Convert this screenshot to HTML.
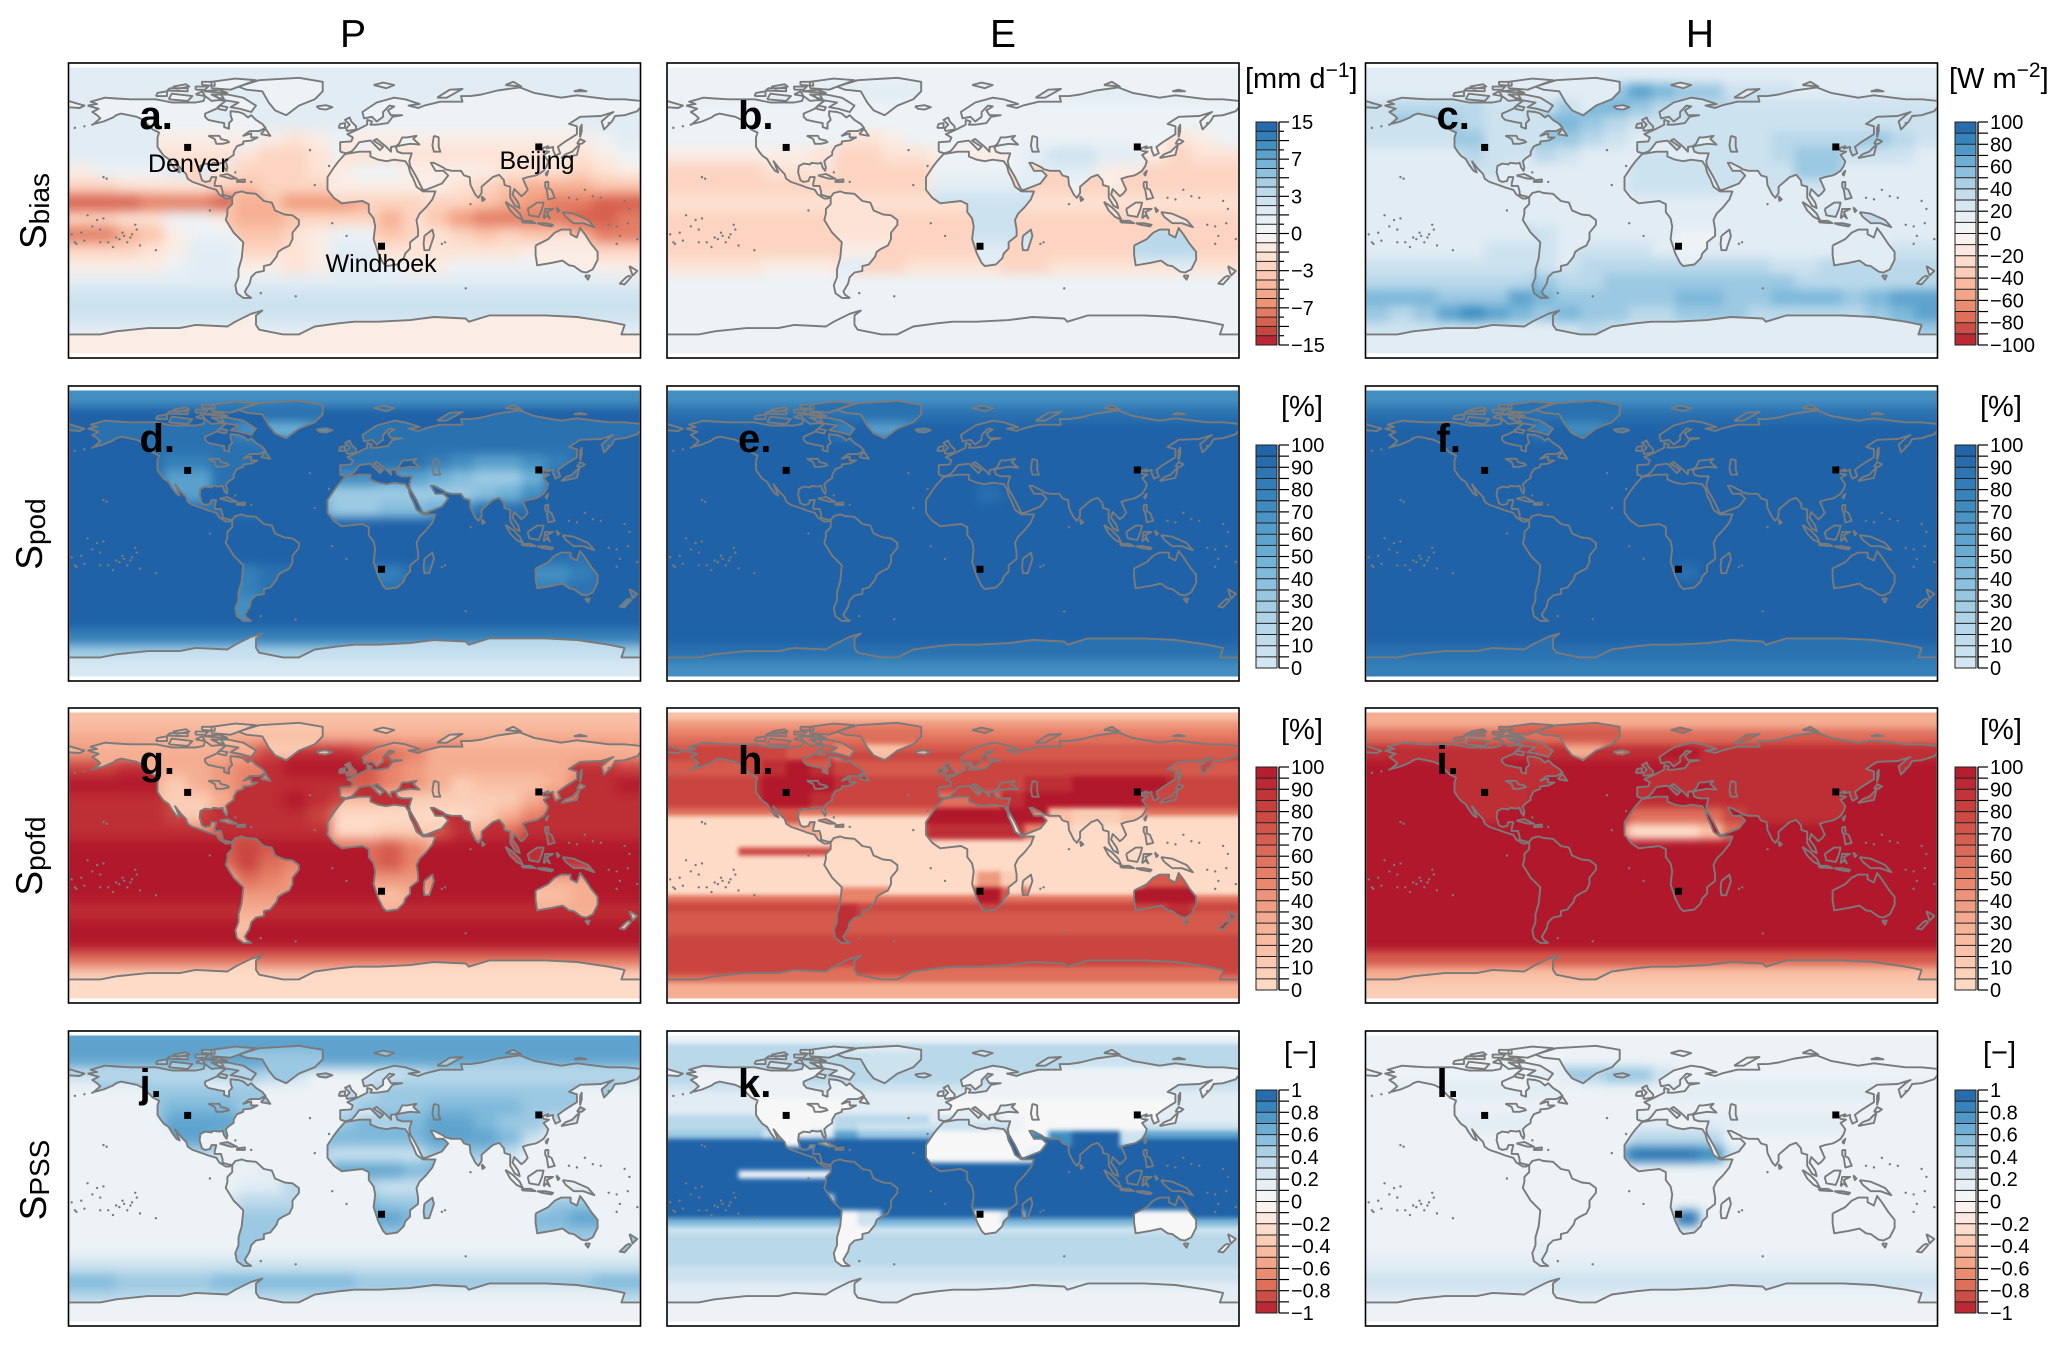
<!DOCTYPE html>
<html lang="en">
<head>
<meta charset="utf-8">
<title>Global skill score maps for P, E and H</title>
<style>
html,body{margin:0;padding:0;background:#fff}
svg{display:block;font-family:"Liberation Sans",sans-serif}
</style>
</head>
<body>
<svg id="fig" xmlns="http://www.w3.org/2000/svg" width="2067" height="1345" viewBox="0 0 2067 1345">
<defs id="defs"></defs>
<rect width="2067" height="1345" fill="#fff"/>
<g font-size="39" text-anchor="middle" fill="#000">
<text x="353" y="47">P</text>
<text x="1003" y="47">E</text>
<text x="1700" y="47">H</text>
</g>
<g text-anchor="middle" fill="#000" font-size="37">
<text transform="translate(46,211) rotate(-90)">S<tspan font-size="28" dy="3">bias</tspan></text>
<text transform="translate(42,534) rotate(-90)">S<tspan font-size="28" dy="3">pod</tspan></text>
<text transform="translate(42,856) rotate(-90)">S<tspan font-size="28" dy="3">pofd</tspan></text>
<text transform="translate(46,1180) rotate(-90)">S<tspan font-size="28" dy="3">PSS</tspan></text>
</g>
<g fill="#000" font-size="29">
<text x="1245" y="88">[mm d<tspan font-size="21" dy="-11">−1</tspan><tspan dy="11">]</tspan></text>
<text x="1949" y="88">[W m<tspan font-size="21" dy="-11">−2</tspan><tspan dy="11">]</tspan></text>
<text x="1281" y="416">[%]</text>
<text x="1980" y="416">[%]</text>
<text x="1281" y="739">[%]</text>
<text x="1980" y="739">[%]</text>
<text x="1284" y="1062">[−]</text>
<text x="1983" y="1062">[−]</text>
</g>
<g id="plots"></g>
</svg>
<script>
// ---------- Basemap geometry (lon, lat) ----------
const coastRings = [
[-168,66,-162,67,-166,68.5,-157,71,-150,70.5,-141,70,-130,70,-125,70,-115,68,-108,68,-100,68,-95,69,-94,72,-90,69,-85,69.5,-81,69,-85,66,-87,64,-94,61,-94,59,-92,57,-85,55.5,-82,55,-82,52.5,-79,51.5,-79,55,-77,57,-78,60,-78,62.5,-73,62,-70,61,-67,58.5,-65,60,-62,57,-58,54.5,-56,52,-60,50,-66,50,-70,47,-65,48.5,-65,46,-61,46,-65,44,-70,43.5,-70,42,-74,40.5,-76,37,-76,35,-79,33,-81,31,-80,27,-80.5,25,-82,27,-83,30,-85,29.5,-89,30,-90,29,-94,29.5,-97,28,-97.5,24,-96,19,-94,18,-91,18.5,-90,21,-87,21,-88,17,-88,15.5,-84,15.5,-83,12,-83,10,-80,9,-77,8.5,-79,7.5,-81,7.5,-85,10,-87,13,-92,14.5,-96,16,-102,18,-105,20,-106,23,-109,26,-113,31,-112,29,-110,24,-112,25,-115,29,-117,32.5,-120,34.5,-122,37,-124,40,-124,46,-123,49,-127,51,-130,54,-133,57,-137,59,-142,60,-147,61,-150,60,-152,58.5,-158,56,-164,54.5,-160,58,-162,60,-165,62,-161,64,-168,66],
[-77,8.5,-75,11,-71,12,-68,11,-62,10.5,-57,6,-52,5,-50,0,-44,-2.5,-39,-3,-35,-6,-35,-9,-39,-14,-39,-18,-41,-22,-45,-24,-48,-26,-49,-29,-53,-34,-57,-35,-57,-38,-62,-39,-65,-42,-66,-46,-69,-51,-68,-53,-65,-55,-70,-55,-74,-52,-75,-47,-73,-42,-73,-37,-71,-30,-70,-20,-76,-14,-81,-6,-80,-2,-80,1,-77,4,-77,8.5],
[-6,35.5,3,37,10,37,10,34,15,32,20,31,25,32,32,31,34,28,35,24,37,20,39,15,43,12,51,12,49,7,45,2,41,-2,39,-6,40,-12,40,-16,35,-20,35,-24,32,-27,31,-30,27,-34,20,-35,18,-33,15,-27,12,-18,13,-10,12,-5,9,-1,9,4,5,6,-4,5,-8,4.5,-13,8,-17,13,-17,21,-13,27,-10,31,-6,35.5],
[-9,37,-9,43,-2,43.5,-1,46,-4.5,48,2,51,8,54,8,57,11,56,10,54,14,54,21,55,24,59,30,60,23,60,21,63,25,65.5,22,66,18,62,18,59,14,56,11,59,6,58,5,62,14,68,25,71,32,70,41,67,34,66,40,64.5,44,66,54,68.5,68,68.5,67,72,73,72,80,73,90,75.5,104,77.5,113,74,130,71,140,72.5,160,70,170,70,180,69,180,65,178,62.5,170,60,164,59.5,162,56,157,51,155.5,56,160,60,163,62,155,59.5,142,59,135,54.5,140,53,140,48,132,43,128,40,129.5,36,126.5,34.5,125,38,125,40,121,39,122,40.5,118,39,119,37.5,122.5,37,119,35,122,31,121,28,119,25,116,23,114,22,109,21,106,20,109,13,107,10.5,105,9,103,11,100.5,13.5,99.5,10,103,5,104,1.5,101,3,98,8,98,15,94.5,16,94,19,91,22.5,87,21,80,15,80,11,78,8,76,10,73,16,72.5,21,69,22,67,25,61,25,57,26,56,27,50,30,48,30,51,25,56,25,59,22,55,17,45,13,43,13,39,21,35,28,34.5,31,36,36,30,36,27,37,26,40,29,41,35,42,41,41.5,37,45,39,47,33,46,30,46,28,42,26,40.5,23,40,23,37,20,40,14,45,12,44,18,40,16,38,10,44,3,43,0,39,-2,37,-5.5,36,-9,37],
[-180,69,-175,67.5,-170,66,-173,64.5,-180,65,-180,69],
[-73,78,-60,82,-35,83.5,-20,81,-20,75,-25,70,-35,66,-43,60,-50,63,-54,68,-58,75,-68,76,-73,78],
[-24,65.5,-18,66.3,-14,65,-18,63.5,-22,64,-24,65.5],
[-5,50,1,51,1,53,-2,56,-3,58.5,-6,57,-3,54,-5,52,-5,50],
[-10,52,-6,52,-6,55,-9,54.5,-10,52],
[-80,73,-70,71,-62,66,-65,62,-72,64,-78,65,-73,68,-85,70,-88,73,-80,73],
[-117,70,-105,69,-102,72,-115,73.5,-117,70],
[-125,72,-118,72,-118,75,-124,74,-125,72],
[-90,77,-78,76,-62,82,-75,83,-90,81,-90,77],
[-95,75,-80,74,-85,76,-95,75],
[-118,75.5,-105,75,-105,77,-116,77,-118,75.5],
[-100,73,-94,72,-96,75,-100,73],
[-100,76,-94,76,-92,78,-100,78,-100,76],
[-112,76.5,-104,78,-106,79.5,-114,78,-112,76.5],
[-96,79,-88,78.5,-88,81,-96,81,-96,79],
[-86,64,-81,63,-80,65,-85,66,-86,64],
[-82,70,-86,71,-90,73,-84,73,-82,70],
[-59,48,-53,47,-56,51.5,-59,48],
[12,79,20,77,25,79,18,80.5,12,79],
[52,71,58,71,68,76.5,60,76,52,71],
[95,79,105,78,100,81,95,79],
[138,75,146,75,142,76,138,75],
[-85,22,-80,23,-74,20,-78,20,-85,22],
[-74,19,-69,19.5,-69,18,-74,18,-74,19],
[44,-16,49,-12,50,-16,47,-25,44,-25,43.5,-21,44,-16],
[80,9,82,7,80.5,6,80,9],
[130,33,135,34,140,35,141,39,141.5,41,140,40,137,37,133,35.5,130,33],
[140,42,142,45,145,43.5,143,42,140,42],
[142,46,143,50,143,54,142,52,142,46],
[120,23,122,25,121,22,120,23],
[120,18,122,18,122,14,124,13,126,8,122,7,121,13,120,15,120,18],
[95,5.5,100,2,104,-2,106,-6,102,-4,98,0,95,5.5],
[105,-6.5,111,-6.5,114,-8,106,-7.5,105,-6.5],
[115,-8,120,-8,125,-9,124,-10,118,-9,115,-8],
[127,2,128,-1,129,0,127,2],
[109,1,115,5,119,5,118,1,116,-4,110,-3,109,1],
[119,-5,120,1,125,1,121,-1,123,-5,121,-3,119,-5],
[131,-1,138,-2,147,-6,151,-10.5,144,-8,138,-8,133,-4,131,-1],
[114,-22,122,-18,126,-14,130,-12,136,-12,136,-15,140,-17,142,-11,145,-15,149,-21,153,-26,153,-31,150,-37,146,-39,143,-38.5,138,-35,135,-34.5,131,-31.5,124,-33,115,-34.5,114,-28,114,-22],
[145,-41,148,-41,147,-43.5,145,-41],
[173,-35,178,-38,175,-41,173,-35],
[173,-41,174,-42,170,-46.5,167,-46,171,-42,173,-41]
];
const antarcticCoast = [-180,-78,-160,-78,-150,-76,-130,-74,-110,-74,-100,-72,-80,-73,-75,-70,-65,-65,-58,-63,-62,-66,-62,-72,-60,-75,-45,-78,-35,-78,-25,-73,-10,-71,0,-70,15,-70,35,-69,50,-67,70,-68,72,-70,85,-66,100,-66,120,-66,140,-67,160,-70,170,-72,168,-78,180,-78];
const lakeRings = [[50,47,53,46,53,40,54,37,50,37,49,41,50,47],[-92,47,-85,47,-84,45,-80,44,-79,43,-83,42,-87,42,-88,45,-92,47]];
const islandLons = [-156,-158,-150,-145,-140,-138,-172,178,167,165,160,70,-59,-37,55,-91,-16,-28,-135,-125,-160,-165,173,-176,57,73,-25,-5,-14,-148,-143,-152,-146,-141,-137,-155,-170,-175,-160,-162,-158,-168,-178,155,150,145,140,135,170,172,-75,-78,-65,-170,-176,-165,160,165];
const islandLats = [20,21,-17,-16,-15,-9,-14,-18,-16,-21,-9,-49,-52,-54,-21,0,28,38,-22,-25,-20,-10,1,-20,-20,4,16,-16,-8,-18,-20,-23,-14,-17,-12,-20,-19,-21,-12,-6,-5,-3,-15,8,9,13,7,8,6,-8,24,22,18,53,52,54,55,-10];

// ---------- Cities ----------
const cityNames = ["Denver","Beijing","Windhoek"];
const cityLons = [-105,116,17];
const cityLats = [39.7,40,-22.5];

// ---------- Colourbar tick labels ----------
const ticksBiasP = ["15","7","3","0","−3","−7","−15"];
const ticksBiasH = ["100","80","60","40","20","0","−20","−40","−60","−80","−100"];
const ticksPercent = ["100","90","80","70","60","50","40","30","20","10","0"];
const ticksPss = ["1","0.8","0.6","0.4","0.2","0","−0.2","−0.4","−0.6","−0.8","−1"];

// ---------- Field values: each row runs west to east; rows run north to south.
// Values are tenths of the colourbar range (P, E bias: colourbar class position).
const oceanA = [[2],[2],[2],[2],
[2,2,2,2,2,2,2,1,-1,-2,-1,1,1,1,1,1,1,1,1,1,1,-1,1,2],
[2,2,2,2,2,2,2,-2,-3,-3,-2,1,-1,-1,-1,-1,-1,-1,-1,-1,-1,-2,-1,1],
[-1,1,1,1,2,2,-2,-3,-3,-3,-2,-1,1,-1,-1,-1,-1,-1,-2,-2,-2,-3,-2,-1],
[-3,-3,-2,-2,-2,-2,-3,-4,-3,-3,-3,-2,-2,-2,-2,-1,-2,-3,-4,-5,-5,-5,-4,-4],
[-8,-8,-8,-7,-7,-7,-8,-7,-4,-6,-6,-6,-5,-3,-3,-3,-3,-4,-5,-6,-7,-7,-8,-8],
[-3,-3,-2,-2,1,1,-1,-3,-3,-3,-3,-3,-3,-3,-2,-4,-6,-7,-7,-7,-7,-8,-8,-7],
[-7,-7,-5,-4,-1,1,1,-1,-2,-2,-1,1,1,-2,-2,-2,-3,-4,-3,-4,-4,-5,-7,-7],
[-3,-3,-3,-2,-1,2,2,1,-2,-2,-1,2,2,-1,-2,-2,-2,-2,-2,-1,-1,-2,-3,-3],
[-1,-1,-1,-1,1,2,2,1,-1,-2,-1,2,2,1,-1,-1,1,1,1,1,1,1,-1,-1],
[2],[3],[3],[2],[-1]];
const landA = [[1],[1],[1],[1],[-1],[-2],
[-2,-2,-2,-2,-2,-3,-3,-3,-3,-3,-2,-1,1,1,-1,-1,-1,-1,-2,-2,-2,-2,-2,-2],
[-3,-3,-3,-3,-3,-3,-4,-4,-4,-3,-1,-1,-1,-1,-1,-1,-2,-3,-4,-4,-5,-5,-5,-5],
[-5,-5,-5,-5,-5,-5,-4,-5,-5,-4,-4,-3,-3,-3,-3,-2,-3,-4,-6,-6,-6,-7,-7,-7],
[-5,-5,-5,-5,-5,-5,-4,-5,-5,-4,-4,-3,-3,-5,-3,-3,-4,-5,-6,-7,-7,-7,-8,-8],
[-3,-3,-3,-3,-3,-3,-3,-4,-4,-3,-3,-3,-3,-4,-3,-3,-3,-3,-3,-3,-2,-2,-2,-2],
[-2,-2,-2,-2,-2,-2,-2,-3,-3,-2,-2,-2,-2,-2,-2,-2,-2,-2,-2,-1,-1,-1,-1,-1],
[-1],[1],[2],[-1],[-1],[-1]];
const oceanB = [[1],[1],[1],[1],
[1,1,1,1,1,1,1,-2,-2,-1,1,1,1,1,1,1,1,1,1,1,-1,-2,-1,1],
[-1,-1,-1,-1,-1,1,1,-3,-3,-2,-2,-1,-1,-1,-1,-1,-1,-1,-1,-1,-1,-3,-2,-2],
[-3,-3,-3,-3,-2,-2,-2,-3,-3,-3,-3,-2,-2,-2,-2,-3,-3,-3,-3,-3,-3,-3,-3,-3],
[-3],[-2],[-3],[-3],[-3],
[-2,-2,-2,-2,-1,-1,-1,-2,-3,-3,-2,-2,-2,-2,-3,-3,-2,-2,-2,-2,-2,-2,-2,-2],
[1],[1],[1],[1],[1]];
const landB = [[1],[2],[1],[1],[1],
[-1,-1,-1,-1,-1,-1,-2,-2,-2,-2,-2,1,1,1,1,2,3,3,2,2,1,-1,-1,-1],
[-2,-2,-2,-2,-2,-2,-2,-2,-2,-2,-2,1,1,1,1,2,2,2,-1,-1,-2,-2,-2,-2],
[-3,-3,-3,-3,-3,-3,-2,-2,-2,-2,-2,2,2,2,2,2,1,1,-1,-2,-2,-2,-2,-2],
[-2,-2,-2,-2,-2,-2,-2,-2,-2,-2,-2,3,3,3,3,3,-1,-2,-2,-2,-2,-2,-2,-2],
[-2,-2,-2,-2,-2,-2,-2,-2,-2,-2,-2,3,3,3,3,3,-2,-2,-2,-2,-2,-2,-2,-2],
[-2,-2,-2,-2,-2,-2,-2,-2,-2,-2,-2,3,3,3,3,3,3,3,3,3,4,4,4,4],
[-1,-1,-1,-1,-1,-1,-1,-1,-1,-1,-1,2,2,2,2,2,3,3,3,4,4,4,4,4],
[2],[1],[1],[1],[1],[1]];
const oceanC = [[2],
[2,2,2,2,2,2,2,2,2,2,5,7,6,5,5,3,3,3,2,2,2,2,2,2],
[3,3,3,3,3,3,3,3,5,6,6,5,4,4,4,4,4,3,3,3,3,3,3,3],
[3,3,3,3,3,3,3,6,6,5,4,3,3,3,3,3,3,3,3,3,3,3,3,3],
[3,3,3,3,3,3,3,5,5,4,3,2,2,2,2,2,2,2,2,3,5,5,4,3],
[2,2,2,2,2,2,2,4,3,2,2,2,2,2,2,2,2,2,2,2,3,3,3,2],
[2],[2],[2],[2],[2],
[2,2,2,2,2,3,3,3,3,3,3,3,2,2,2,2,2,2,2,2,2,2,3,3],
[3,3,3,3,3,3,3,3,3,4,4,4,4,4,4,4,4,3,3,4,4,4,4,4],
[4,4,4,4,4,4,4,5,4,4,5,5,5,5,5,5,5,5,4,4,4,4,4,4],
[6,6,6,5,5,5,7,6,5,5,5,5,5,6,6,5,5,6,6,6,5,6,7,7],
[5,4,5,7,8,7,6,5,6,5,5,4,4,5,5,5,4,4,4,4,4,5,6,7],
[3,3,3,3,3,3,3,3,3,4,3,3,3,3,3,3,3,3,3,3,3,3,5,5],
[2]];
const landC = [[2],[2],
[4,4,4,4,4,3,3,3,3,2,2,3,3,3,3,3,3,3,3,3,3,3,3,3],
[5,5,5,5,4,3,3,3,3,3,3,3,3,3,3,3,3,3,3,3,3,3,3,3],
[4,4,4,5,5,3,3,3,3,3,3,3,3,3,3,3,3,4,4,4,4,4,4,4],
[3,3,3,3,4,3,3,3,3,3,3,3,3,3,3,3,3,4,5,5,4,3,3,3],
[2,2,2,2,3,3,2,2,2,2,2,3,3,3,3,3,3,3,5,5,3,3,3,3],
[2,2,2,2,2,2,2,2,2,2,2,3,3,3,3,3,3,3,3,3,3,3,3,3],
[2,2,2,2,2,2,2,2,2,2,2,2,2,2,2,2,2,2,2,2,3,3,3,3],
[2,2,2,2,2,2,2,2,2,2,2,2,2,2,2,2,2,2,2,3,3,4,4,4],
[2,2,2,2,2,2,4,3,2,2,2,2,2,1,1,2,2,2,2,2,2,2,2,2],
[2,2,2,2,2,2,5,3,2,2,2,2,1,1,1,1,2,2,2,2,2,2,2,2],
[2,2,2,2,2,2,5,3,2,2,2,2,2,2,2,2,2,2,2,2,2,2,2,2],
[3,3,3,3,3,3,7,5,3,3,3,3,3,3,3,3,3,3,3,3,3,3,3,3],
[7],
[2,2,2,2,2,2,3,5,7,4,2,2,2,2,2,2,2,2,2,2,2,2,2,2],
[2],[2]];
const oceanD = [[7],[10],[10],[10],[10],[10],[10],[10],[10],[10],[10],[10],[10],[10],[10],[8],[3],[0]];
const landD = [[8],[9],
[9,9,9,9,9,9,9,7,5,5,6,9,9,9,9,9,9,9,9,9,9,9,9,9],
[9],
[9,9,9,9,8,8,9,9,9,9,9,9,9,9,9,8,7,6,6,7,8,9,9,9],
[9,9,9,9,6,6,9,9,9,9,9,7,7,6,6,5,4,3,3,5,9,9,9,9],
[9,9,9,9,6,6,9,9,9,9,4,3,3,3,3,3,3,4,5,7,9,9,9,9],
[9,9,9,9,9,9,9,9,9,9,5,3,3,4,4,5,7,9,9,9,9,9,9,9],
[10],[10],
[10,10,10,10,10,10,10,10,10,10,10,10,10,10,10,10,10,10,10,9,9,9,9,9],
[9,9,9,9,9,9,7,8,9,9,9,9,8,8,9,9,9,9,9,7,7,8,9,9],
[9,9,9,9,9,9,6,8,9,9,9,9,9,9,9,9,9,9,9,8,8,9,9,9],
[7],[7],[2],[1],[0]];
const oceanE = [[7],[9],[10],[10],[10],[10],[10],[10],[10],[10],[10],[10],[10],[10],[10],[10],[9],[7]];
const landE = [[9],[9],
[10,10,10,10,10,10,10,8,6,6,7,10,10,10,10,10,10,10,10,10,10,10,10,10],
[10],[10],[10],
[10,10,10,10,10,10,10,10,10,10,10,10,10,9,10,10,10,10,10,10,10,10,10,10],
[10],[10],[10],[10],[10],[10],[10],[10],[9],[9],[7]];
const oceanF = [[7],[9],[10],[10],[10],[10],[10],[10],[10],[10],[10],[10],[10],[10],[10],[10],[9],[8]];
const landF = [[9],[9],
[10,10,10,10,10,10,10,8,7,7,8,10,10,10,10,10,10,10,10,10,10,10,10,10],
[10],[10],[10],[10],[10],[10],[10],[10],
[10,10,10,10,10,10,10,10,10,10,10,10,10,9,10,10,10,10,10,10,10,10,10,10],
[10],[10],[10],[9],[9],[8]];
const oceanG = [[2],[3],
[4,4,4,3,3,3,3,6,8,9,9,9,8,7,6,6,6,6,5,5,5,5,5,4],
[8,8,9,9,8,4,4,9,9,10,10,10,10,9,9,9,9,9,9,9,9,9,9,8],
[10,10,10,10,10,9,9,9,9,9,9,9,9,9,9,9,9,9,9,9,9,9,9,10],
[9,9,9,9,8,8,9,9,9,10,9,8,9,9,9,9,9,9,9,9,9,9,9,9],
[9,9,9,9,8,8,9,9,9,9,8,5,9,9,9,9,9,9,9,9,9,9,9,9],
[9,9,9,9,9,9,9,9,9,9,9,8,8,8,8,7,9,9,9,9,9,9,9,9],
[10],[10],[10],[10],[9],[10],[10],[6],[1],[0]];
const landG = [[1],[2],
[3,3,3,3,3,3,3,3,1,1,1,6,6,6,5,3,3,3,3,3,3,3,3,3],
[3,3,3,3,3,3,4,5,5,5,5,7,7,5,4,3,3,3,3,3,3,4,4,4],
[3,3,3,3,1,3,4,5,6,6,6,7,7,5,4,3,1,2,2,2,3,5,6,6],
[2,2,2,2,1,1,3,6,6,6,6,2,2,2,1,1,1,1,1,3,5,7,7,7],
[2,2,2,2,1,1,4,7,7,7,7,0,0,0,0,0,0,1,3,5,6,7,7,7],
[5,5,5,5,5,5,7,7,7,7,7,0,0,1,1,1,2,3,6,8,9,9,9,9],
[7,7,7,7,7,7,7,8,7,6,6,6,6,7,5,3,7,7,8,9,9,9,9,9],
[6,6,6,6,6,6,6,8,6,5,5,6,6,7,5,4,7,7,8,9,9,9,9,9],
[3,3,3,3,3,3,2,6,5,4,4,4,4,4,4,5,5,5,4,3,3,3,3,3],
[2,2,2,2,2,2,1,4,4,4,2,2,2,2,3,4,4,4,3,2,2,3,3,3],
[3],[2],[3],[1],[0],[0]];
const oceanH = [[2],[4],[5],[6],[7],[8],[7],[7],[8],[8],[8],[8],[6],[0],[0],[0],[0],
[0,0,0,8,8,8,8,0,0,0,0,0,0,0,0,0,0,0,0,0,0,0,0,0],
[0],[0],[0],[0],[0],[6],[8],[7],[7],[7],[8],[8],[8],[8],[8],[6],[4],[2]];
const landH = [[5],[6],
[8,8,8,8,8,7,7,5,2,2,3,7,7,7,7,7,7,7,7,7,7,7,7,7],
[8,8,8,8,9,10,9,8,8,8,8,8,8,8,8,8,8,8,8,8,8,8,8,8],
[9,9,9,9,10,10,10,9,9,9,9,8,8,8,8,9,9,10,10,10,10,9,9,9],
[9,9,9,9,10,10,9,7,7,7,7,6,6,6,9,10,10,10,10,10,9,8,8,8],
[7,7,7,7,7,7,5,3,3,3,10,10,10,10,10,10,2,1,1,2,3,2,2,2],
[3,3,3,3,3,3,3,1,1,1,8,9,9,9,9,5,1,0,0,0,1,0,0,0],
[0],[0],
[0,0,0,0,0,0,0,0,0,0,0,0,0,4,1,0,0,0,0,0,7,7,7,7],
[5,5,5,5,5,5,5,5,5,5,5,9,9,10,7,5,5,5,5,10,10,10,10,10],
[8,8,8,8,8,8,9,9,8,8,8,8,8,8,8,8,8,8,9,8,8,9,8,8],
[9],[9],[8],[6],[3]];
const oceanI = [[3],[6],[9],[10],[10],[10],[10],[10],[10],[10],[10],[10],[10],[10],[10],[7],[3],[1]];
const landI = [[6],[7],
[9,9,9,9,9,9,9,8,3,3,5,10,10,10,9,9,9,9,9,9,9,9,9,9],
[9],[9],
[9,9,9,9,9,9,9,10,10,10,10,9,9,9,9,9,9,9,9,9,9,9,9,9],
[10,10,10,10,9,9,9,10,10,10,9,6,6,6,6,8,9,9,9,9,9,9,9,9],
[10,10,10,10,10,10,10,10,10,10,5,0,0,0,2,6,10,10,10,10,10,10,10,10],
[10],[10],[10],[10],[10],[10],[10],[6],[2],[1]];
const oceanJ = [[7],[7],
[3,3,3,3,3,3,4,5,4,3,1,1,1,1,3,4,4,4,4,4,3,3,3,3],
[1],[1],
[1,1,1,1,2,1,1,1,1,1,1,1,5,5,5,1,1,1,1,1,1,1,1,1],
[1],[1],[1],[1],[1],[1],[1],[1],[3],
[6,6,5,5,5,5,6,6,6,6,6,6,5,5,5,5,5,5,5,5,5,5,6,6],
[4],[1]];
const landJ = [[6],[5],
[4,4,4,4,4,4,4,4,5,5,5,3,3,3,4,4,4,4,4,4,4,4,4,4],
[5,5,5,5,5,5,5,5,5,5,5,4,4,5,5,5,5,5,5,5,5,5,5,5],
[5,5,5,5,6,6,6,5,5,5,5,3,5,5,5,6,6,6,6,5,5,5,3,3],
[5,5,5,5,7,7,7,6,5,5,5,5,6,6,6,7,7,6,5,5,3,2,2,2],
[5,5,5,5,7,7,6,5,5,5,6,6,6,6,6,7,7,7,6,3,1,1,1,1],
[3,3,3,3,4,4,3,2,2,2,4,3,3,3,3,5,5,5,3,1,1,1,1,1],
[1,1,1,1,1,1,1,1,2,3,3,7,7,7,6,6,1,1,1,1,1,1,1,1],
[1,1,1,1,1,1,1,2,2,4,4,4,4,3,3,3,1,1,1,1,1,1,1,1],
[2,2,2,2,2,2,2,4,4,4,4,6,6,5,5,5,4,1,1,2,5,5,5,5],
[4,4,4,4,4,4,4,5,5,5,5,7,7,7,6,4,4,4,6,6,6,7,7,7],
[5],[5],[5],[3],[1],[1]];
const oceanK = [[1],[4],[4],[4],[4],[4],[3],[2],[2],[2],
[4,4,4,4,4,2,2,4,4,4,4,2,2,2,2,2,2,2,2,2,2,2,2,2],
[4,4,4,4,4,1,1,4,3,3,3,3,3,3,3,3,3,3,3,3,3,3,3,3],
[5,5,5,5,3,1,2,7,5,5,5,5,8,8,8,8,8,8,7,7,7,7,7,7],
[10],[10],[10],[10],
[10,10,10,1,1,1,1,10,10,10,10,10,10,10,10,10,10,10,10,10,10,10,10,10],
[10],[10],[10],[10],[10],[6],[3],[4],[4],[4],[4],[3],[3],[2],[2],[2],[1],[1]];
const landK = [[2],[3],
[1,1,1,1,1,1,1,2,3,3,3,1,1,1,1,1,1,1,1,1,1,1,1,1],
[1],[0],
[0,0,0,0,0,0,0,1,1,1,1,3,3,3,1,0,0,0,0,0,0,1,1,1],
[0,0,0,0,0,0,5,8,8,8,0,0,0,0,0,0,8,10,10,3,4,4,4,4],
[10,10,10,10,10,10,10,10,10,10,0,0,0,0,0,1,10,10,10,10,10,10,10,10],
[10],[10],
[10,10,10,10,10,10,3,10,10,10,10,10,10,10,10,10,10,10,10,10,10,10,10,10],
[1,1,1,1,1,1,1,0,3,10,10,0,0,0,3,10,10,10,10,0,0,0,0,0],
[0],[0],[0],[2],[1],[1]];
const oceanL = [[1],[1],
[1,1,1,1,1,1,1,1,2,4,5,5,3,1,1,1,1,1,1,1,1,1,1,1],
[1],[1],[1],[1],[1],[1],[1],[1],[1],[1],[1],[2],[3],[2],[1]];
const landL = [[1],[1],
[1,1,1,1,1,1,1,2,5,5,5,1,1,1,1,1,1,1,1,1,1,1,1,1],
[2],[1],[2],
[1,1,1,1,1,1,1,1,1,1,1,4,4,4,4,1,1,1,1,1,1,1,1,1],
[1,1,1,1,1,1,1,1,1,1,6,9,9,9,8,3,1,1,1,1,1,1,1,1],
[1],[1],[1],
[1,1,1,1,1,1,1,1,1,1,1,1,1,9,1,1,1,1,1,1,1,1,1,1],
[1],[2],[2],[2],[1],[1]];

// ---------- Panel list ----------
const panelLetters = ["a.","b.","c.","d.","e.","f.","g.","h.","i.","j.","k.","l."];
const panelFields = [
 [oceanA,landA,"div",6],[oceanB,landB,"div",6],[oceanC,landC,"div",5],
 [oceanD,landD,"blue",5],[oceanE,landE,"blue",5],[oceanF,landF,"blue",5],
 [oceanG,landG,"red",6],[oceanH,landH,"red",2.5],[oceanI,landI,"red",4],
 [oceanJ,landJ,"div",6],[oceanK,landK,"div",2.5],[oceanL,landL,"div",5]
];
const SVGNS = "http://www.w3.org/2000/svg";
const colX = [68.5,667,1365.5];
const rowY = [63,386,708,1031];
const panelW = 572, panelH = 295;
const mapH = panelW/2, inset = (panelH-mapH)/2;
const barX = [null,1256,1955];
const barTop = 59, barH = 223, barW = 21;

// Axis functions (local panel coordinates)
function lonToX(lon){return (lon+180)/360*panelW;}
function latToY(lat){return inset+(90-lat)/180*mapH;}

// Colour ramps
const divStops = [[-10,[178,24,43]],[-8,[214,96,77]],[-6,[240,155,123]],[-4,[251,197,172]],[-2,[253,227,213]],[0,[247,247,247]],[2,[225,236,244]],[4,[185,216,234]],[6,[125,184,218]],[8,[63,142,193]],[10,[31,98,168]]];
const blueStops = [[0,[216,233,243]],[2.5,[169,208,230]],[5,[109,176,214]],[7.5,[58,135,189]],[10,[31,98,168]]];
const redStops = [[0,[253,219,199]],[2.5,[248,185,156]],[5,[232,131,106]],[7.5,[208,80,69]],[10,[178,24,43]]];
const ramps = {div:divStops,blue:blueStops,red:redStops};
function colour(kind,v){
  const s = ramps[kind];
  if(v<=s[0][0]) return "rgb("+s[0][1].join(",")+")";
  for(let i=1;i<s.length;i++){
    if(v<=s[i][0]){
      const t=(v-s[i-1][0])/(s[i][0]-s[i-1][0]);
      const c=s[i-1][1].map((a,k)=>Math.round(a+(s[i][1][k]-a)*t));
      return "rgb("+c.join(",")+")";
    }
  }
  return "rgb("+s[s.length-1][1].join(",")+")";
}

function ringPath(r,close){
  let d="";
  for(let i=0;i<r.length;i+=2){
    d+=(i?"L":"M")+lonToX(r[i]).toFixed(1)+" "+latToY(r[i+1]).toFixed(1);
  }
  return d+(close?"Z":"");
}
const landPath = coastRings.map(r=>ringPath(r,true)).join("")+ringPath(antarcticCoast.concat([180,-90,-180,-90]),true);
const linePath = coastRings.map(r=>ringPath(r,false)).join("")+ringPath(antarcticCoast,false)+lakeRings.map(r=>ringPath(r,false)).join("");

const defs = document.getElementById("defs");
const plots = document.getElementById("plots");

const landClip = document.createElementNS(SVGNS,"clipPath");
landClip.setAttribute("id","land-clip");
const landClipPath = document.createElementNS(SVGNS,"path");
landClipPath.setAttribute("d",landPath);
landClip.appendChild(landClipPath);
defs.appendChild(landClip);

const mapClip = document.createElementNS(SVGNS,"clipPath");
mapClip.setAttribute("id","map-clip");
const mapClipRect = document.createElementNS(SVGNS,"rect");
mapClipRect.setAttribute("x",1);
mapClipRect.setAttribute("y",inset);
mapClipRect.setAttribute("width",panelW-2);
mapClipRect.setAttribute("height",mapH);
mapClip.appendChild(mapClipRect);
defs.appendChild(mapClip);

const blurs = [2.5,4,5,6];
blurs.forEach(function(s){
  const f = document.createElementNS(SVGNS,"filter");
  f.setAttribute("id","blur-"+String(s).replace(".","_"));
  f.setAttribute("filterUnits","userSpaceOnUse");
  f.setAttribute("x",-60);
  f.setAttribute("y",-60);
  f.setAttribute("width",panelW+120);
  f.setAttribute("height",panelH+120);
  f.setAttribute("color-interpolation-filters","sRGB");
  const b = document.createElementNS(SVGNS,"feGaussianBlur");
  b.setAttribute("stdDeviation",s);
  f.appendChild(b);
  defs.appendChild(f);
});

function drawGrid(parent,rows,kind){
  const n = rows.length;
  rows.forEach(function(row,r){
    const north = 90-r*180/n, south = 90-(r+1)*180/n;
    let y0 = latToY(north), y1 = latToY(south);
    if(r===0) y0 -= 40;
    if(r===n-1) y1 += 40;
    row.forEach(function(v,c){
      const w = 360/row.length;
      let x0 = lonToX(-180+c*w), x1 = lonToX(-180+(c+1)*w);
      if(c===0) x0 -= 40;
      if(c===row.length-1) x1 += 40;
      const cell = document.createElementNS(SVGNS,"rect");
      cell.setAttribute("x",x0.toFixed(2));
      cell.setAttribute("y",y0.toFixed(2));
      cell.setAttribute("width",(x1-x0+0.6).toFixed(2));
      cell.setAttribute("height",(y1-y0+0.6).toFixed(2));
      cell.setAttribute("fill",colour(kind,v));
      
      
      parent.appendChild(cell);
    });
  });
}

panelFields.forEach(function(field,i){
  const col = i%3, row = Math.floor(i/3);
  const g = document.createElementNS(SVGNS,"g");
  g.setAttribute("transform","translate("+colX[col]+","+rowY[row]+")");
  
  
  plots.appendChild(g);

  const clipG = document.createElementNS(SVGNS,"g");
  clipG.setAttribute("clip-path","url(#map-clip)");
  
  
  g.appendChild(clipG);

  const blurId = "url(#blur-"+String(field[3]).replace(".","_")+")";
  const oceanG_ = document.createElementNS(SVGNS,"g");
  oceanG_.setAttribute("filter",blurId);
  
  
  clipG.appendChild(oceanG_);
  drawGrid(oceanG_,field[0],field[2]);

  const landOuter = document.createElementNS(SVGNS,"g");
  landOuter.setAttribute("clip-path","url(#land-clip)");
  
  
  clipG.appendChild(landOuter);
  const landG_ = document.createElementNS(SVGNS,"g");
  landG_.setAttribute("filter",blurId);
  
  
  landOuter.appendChild(landG_);
  drawGrid(landG_,field[1],field[2]);

  const coast = document.createElementNS(SVGNS,"path");
  coast.setAttribute("d",linePath);
  coast.setAttribute("fill","none");
  coast.setAttribute("stroke","#7a7a7a");
  coast.setAttribute("stroke-width","1.9");
  coast.setAttribute("stroke-linejoin","round");
  
  
  clipG.appendChild(coast);

  islandLons.forEach(function(lon,k){
    const dot = document.createElementNS(SVGNS,"circle");
    dot.setAttribute("cx",lonToX(lon));
    dot.setAttribute("cy",latToY(islandLats[k]));
    dot.setAttribute("r",1.2);
    dot.setAttribute("fill","#7a7a7a");
    
    
    clipG.appendChild(dot);
  });

  cityLons.forEach(function(lon,k){
    const sq = document.createElementNS(SVGNS,"rect");
    sq.setAttribute("x",lonToX(lon)-3.5);
    sq.setAttribute("y",latToY(cityLats[k])-3.5);
    sq.setAttribute("width",7);
    sq.setAttribute("height",7);
    sq.setAttribute("fill","#000");
    
    
    g.appendChild(sq);
  });

  const frame = document.createElementNS(SVGNS,"rect");
  frame.setAttribute("x",0);
  frame.setAttribute("y",0);
  frame.setAttribute("width",panelW);
  frame.setAttribute("height",panelH);
  frame.setAttribute("fill","none");
  frame.setAttribute("stroke","#000");
  frame.setAttribute("stroke-width","1.6");
  
  
  g.appendChild(frame);

  const letter = document.createElementNS(SVGNS,"text");
  letter.setAttribute("x",71);
  letter.setAttribute("y",66);
  letter.setAttribute("font-size",40);
  letter.setAttribute("font-weight","bold");
  letter.setAttribute("fill","#000");
  letter.textContent = panelLetters[i];
  
  
  g.appendChild(letter);
});

// City labels on panel a
const cityLabelX = [79.5,431,257];
const cityLabelY = [109,106,209];
cityNames.forEach(function(name,k){
  const t = document.createElementNS(SVGNS,"text");
  t.setAttribute("x",colX[0]+cityLabelX[k]);
  t.setAttribute("y",rowY[0]+cityLabelY[k]);
  t.setAttribute("font-size",25);
  t.setAttribute("fill","#000");
  t.textContent = name;
  
  
  plots.appendChild(t);
});

// Colourbars
function drawBar(x,top,kind,labels,segs,name){
  const g = document.createElementNS(SVGNS,"g");
  
  
  plots.appendChild(g);
  const h = barH/segs;
  const lo = kind==="div"?-10:0;
  for(let s=0;s<segs;s++){
    const v = 10-(s+0.5)*(10-lo)/segs;
    const seg = document.createElementNS(SVGNS,"rect");
    seg.setAttribute("x",x);
    seg.setAttribute("y",(top+s*h).toFixed(2));
    seg.setAttribute("width",barW);
    seg.setAttribute("height",(h+0.3).toFixed(2));
    seg.setAttribute("fill",colour(kind,v));
    
    
    g.appendChild(seg);
  }
  const perLabel = segs/(labels.length-1);
  const half = perLabel/2;
  for(let s=0;s<=segs;s++){
    const y = top+s*h;
    const sep = document.createElementNS(SVGNS,"line");
    sep.setAttribute("x1",x);
    sep.setAttribute("x2",x+barW);
    sep.setAttribute("y1",y.toFixed(2));
    sep.setAttribute("y2",y.toFixed(2));
    sep.setAttribute("stroke","#222");
    sep.setAttribute("stroke-width","1");
    
    
    g.appendChild(sep);
    const long = s%half===0;
    const tick = document.createElementNS(SVGNS,"line");
    tick.setAttribute("x1",x+barW+2);
    tick.setAttribute("x2",x+barW+(long?12:7));
    tick.setAttribute("y1",y.toFixed(2));
    tick.setAttribute("y2",y.toFixed(2));
    tick.setAttribute("stroke","#000");
    tick.setAttribute("stroke-width","1.2");
    
    
    g.appendChild(tick);
  }
  const axis = document.createElementNS(SVGNS,"line");
  axis.setAttribute("x1",x+barW+2);
  axis.setAttribute("x2",x+barW+2);
  axis.setAttribute("y1",top);
  axis.setAttribute("y2",top+barH);
  axis.setAttribute("stroke","#000");
  axis.setAttribute("stroke-width","1.4");
  
  
  g.appendChild(axis);
  const outline = document.createElementNS(SVGNS,"rect");
  outline.setAttribute("x",x);
  outline.setAttribute("y",top);
  outline.setAttribute("width",barW);
  outline.setAttribute("height",barH);
  outline.setAttribute("fill","none");
  outline.setAttribute("stroke","#222");
  outline.setAttribute("stroke-width","1");
  
  
  g.appendChild(outline);
  labels.forEach(function(lab,k){
    const t = document.createElementNS(SVGNS,"text");
    t.setAttribute("x",x+barW+14);
    t.setAttribute("y",(top+k*barH/(labels.length-1)+7).toFixed(1));
    t.setAttribute("font-size",20);
    t.setAttribute("fill","#000");
    t.textContent = lab;
    
    
    g.appendChild(t);
  });
}
drawBar(barX[1],rowY[0]+barTop,"div",ticksBiasP,24,"colorbar-bias-p-e");
drawBar(barX[2],rowY[0]+barTop,"div",ticksBiasH,20,"colorbar-bias-h");
drawBar(barX[1],rowY[1]+barTop,"blue",ticksPercent,20,"colorbar-pod-e");
drawBar(barX[2],rowY[1]+barTop,"blue",ticksPercent,20,"colorbar-pod-h");
drawBar(barX[1],rowY[2]+barTop,"red",ticksPercent,20,"colorbar-pofd-e");
drawBar(barX[2],rowY[2]+barTop,"red",ticksPercent,20,"colorbar-pofd-h");
drawBar(barX[1],rowY[3]+barTop,"div",ticksPss,20,"colorbar-pss-e");
drawBar(barX[2],rowY[3]+barTop,"div",ticksPss,20,"colorbar-pss-h");
</script>
</body>
</html>
